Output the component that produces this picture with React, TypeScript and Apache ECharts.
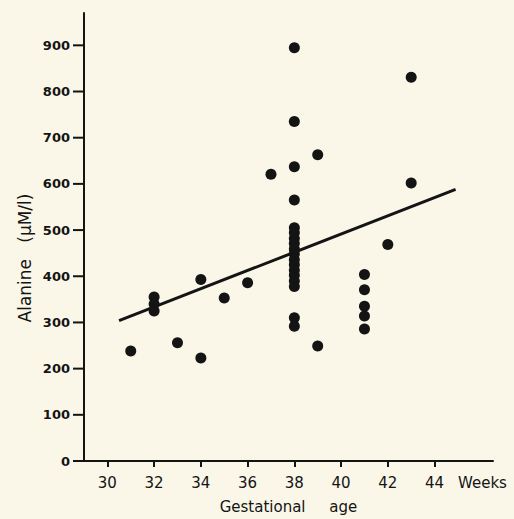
import React, { useEffect, useRef } from "react";
import * as echarts from "echarts";

// Gestational age (weeks) of each sample
const weeks: number[] = [
  31,
  32, 32, 32,
  33,
  34, 34,
  35,
  36,
  37,
  38, 38, 38, 38,
  38, 38, 38, 38, 38, 38, 38, 38, 38, 38, 38, 38,
  38, 38,
  39, 39,
  41, 41, 41, 41, 41,
  42,
  43, 43,
];

// Plasma alanine concentration (µM/l) for each sample
const alanine: number[] = [
  238,
  355, 340, 325,
  256,
  393, 223,
  353,
  386,
  621,
  895, 735, 637, 565,
  505, 494, 482, 471, 459, 448, 436, 425, 413, 402, 390, 378,
  310, 292,
  663, 249,
  404, 371, 335, 314, 286,
  469,
  831, 602,
];

// Regression line end points
const fitWeeks: number[] = [30.5, 44.9];
const fitAlanine: number[] = [304, 588];

// Tick labels
const xTicks: number[] = [30, 32, 34, 36, 38, 40, 42, 44];
const yTicks: number[] = [0, 100, 200, 300, 400, 500, 600, 700, 800, 900];

const X_MIN = 29;
const INK = "#141414";
const PAPER = "#faf7e8";
const FONT = "DejaVu Sans";

export default function App() {
  const ref = useRef<HTMLDivElement>(null);

  useEffect(() => {
    if (!ref.current) return;
    const chart = echarts.init(ref.current, undefined, { renderer: "svg" });

    const points = weeks.map((w, i) => [w, alanine[i]]);
    const fit = fitWeeks.map((w, i) => [w, fitAlanine[i]]);

    chart.setOption({
      animation: false,
      backgroundColor: PAPER,
      grid: { left: 84, right: 21, top: 13, bottom: 58, containLabel: false },
      xAxis: {
        type: "value",
        min: X_MIN,
        max: 46.5,
        splitLine: { show: false },
        axisLine: { onZero: false, lineStyle: { color: INK, width: 2 } },
        axisTick: {
          customValues: xTicks,
          length: 6,
          lineStyle: { color: INK, width: 2 },
        },
        axisLabel: {
          customValues: xTicks,
          color: INK,
          fontFamily: FONT,
          fontSize: 15,
          margin: 14,
        },
        name: "Gestational     age",
        nameLocation: "middle",
        nameGap: 38,
        nameTextStyle: { color: INK, fontFamily: FONT, fontSize: 15 },
      },
      yAxis: {
        type: "value",
        min: 0,
        max: 970,
        splitLine: { show: false },
        axisLine: { show: true, onZero: false, lineStyle: { color: INK, width: 2 } },
        axisTick: { show: false },
        axisLabel: {
          customValues: yTicks,
          color: INK,
          fontFamily: FONT,
          fontSize: 13,
          fontWeight: "bold",
          margin: 14,
        },
      },
      graphic: [
        {
          type: "text",
          left: 458,
          top: 475,
          style: {
            text: "Weeks",
            fill: INK,
            font: `15px "${FONT}"`,
          },
        },
        {
          type: "text",
          x: 25,
          y: 258,
          rotation: Math.PI / 2,
          style: {
            text: "Alanine   (\u03BCM/l)",
            fill: INK,
            font: `17px "${FONT}"`,
            align: "center",
            verticalAlign: "middle",
          },
        },
      ],
      series: [
        {
          // outward tick marks on the vertical axis
          type: "custom",
          clip: false,
          silent: true,
          data: yTicks.map((v) => [X_MIN, v]),
          encode: { x: 0, y: 1 },
          renderItem: (_params: any, api: any) => {
            const p = api.coord([api.value(0), api.value(1)]);
            return {
              type: "line",
              shape: { x1: p[0] - 11, y1: p[1], x2: p[0], y2: p[1] },
              style: { stroke: INK, lineWidth: 2 },
            };
          },
          z: 1,
        },
        {
          type: "line",
          data: fit,
          symbol: "none",
          lineStyle: { color: INK, width: 3 },
          z: 2,
        },
        {
          type: "scatter",
          data: points,
          symbol: "circle",
          symbolSize: 11,
          itemStyle: { color: INK, opacity: 1 },
          z: 3,
        },
      ],
    });

    return () => chart.dispose();
  }, []);

  return (
    <div
      ref={ref}
      style={{ position: "fixed", left: 0, top: 0, width: 514, height: 519 }}
    />
  );
}
